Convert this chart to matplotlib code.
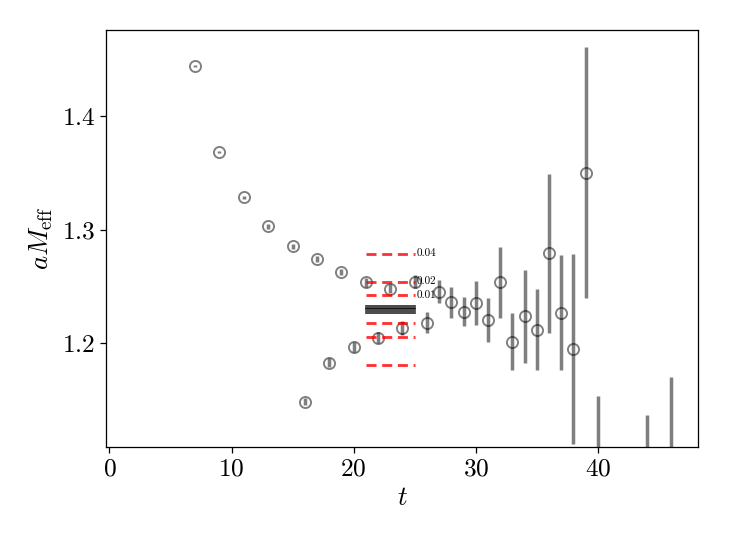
import numpy as np
import matplotlib.pyplot as plt

plt.rcParams['font.family'] = 'serif'
plt.rcParams['font.serif'] = ['cmr10']
plt.rcParams['mathtext.fontset'] = 'cm'
plt.rcParams['axes.formatter.use_mathtext'] = True
plt.rcParams['axes.unicode_minus'] = False

# effective mass data
t_vals = [7, 9, 11, 13, 15, 16, 17, 18, 19, 20, 21, 22, 23, 24, 25, 26,
          27, 28, 29, 30, 31, 32, 33, 34, 35, 36, 37, 38, 39, 40, 44, 46]
m_eff = [1.444, 1.368, 1.3284, 1.3029, 1.2853, 1.1486, 1.2739, 1.1829, 1.2627, 1.1967,
         1.2537, 1.2049, 1.2478, 1.2132, 1.2542, 1.2181,
         1.2454, 1.2361, 1.2278, 1.2355, 1.2202, 1.2537, 1.2014, 1.2238, 1.2120,
         1.2792, 1.2269, 1.1947, 1.3501, 1.090, 1.100, 1.090]
m_err = [0.001, 0.001, 0.0015, 0.002, 0.002, 0.003, 0.0025, 0.004, 0.003, 0.004,
         0.004, 0.0047, 0.004, 0.006, 0.006, 0.009,
         0.010, 0.0135, 0.013, 0.0194, 0.0195, 0.0314, 0.0252, 0.041, 0.0358,
         0.0698, 0.0506, 0.0834, 0.1106, 0.064, 0.0367, 0.080]

# fit result and bands
fit_t = [21, 25]
fit_lines = [1.2264, 1.2281, 1.2297, 1.2314, 1.2331]
m_fit = 1.2297
band_frac = [0.04, 0.02, 0.01]

fig = plt.figure(figsize=(6.4, 4.8), dpi=114.2)
ax = fig.add_axes([0.1454, 0.1849, 0.8096, 0.7601])

ax.errorbar(t_vals, m_eff, yerr=m_err, fmt='o', color='k', alpha=0.5,
            mfc='none', mec='k', ms=7, mew=1.2, elinewidth=2.2, capsize=0)

for y in fit_lines:
    ax.plot(fit_t, [y, y], color='k', lw=1.1, alpha=0.8, zorder=4)

for f in band_frac:
    for s in (1, -1):
        y = m_fit * (1 + s * f)
        ax.plot(fit_t, [y, y], color='red', ls='--', lw=1.8, alpha=0.8, zorder=5,
                dashes=(3.5, 2))
    ax.text(fit_t[1] + 0.15, m_fit * (1 + f), str(f), fontsize=7,
            va='center', ha='left')

ax.set_xlim(-0.26, 48.2)
ax.set_ylim(1.109, 1.4756)
ax.set_yticks([1.2, 1.3, 1.4])
ax.set_xticks([0, 10, 20, 30, 40])
ax.tick_params(labelsize=16)
ax.set_xlabel(r'$t$', fontsize=17)
ax.set_ylabel(r'$aM_{\mathrm{eff}}$', fontsize=17)

fig.savefig('out.png', dpi=114.2)
